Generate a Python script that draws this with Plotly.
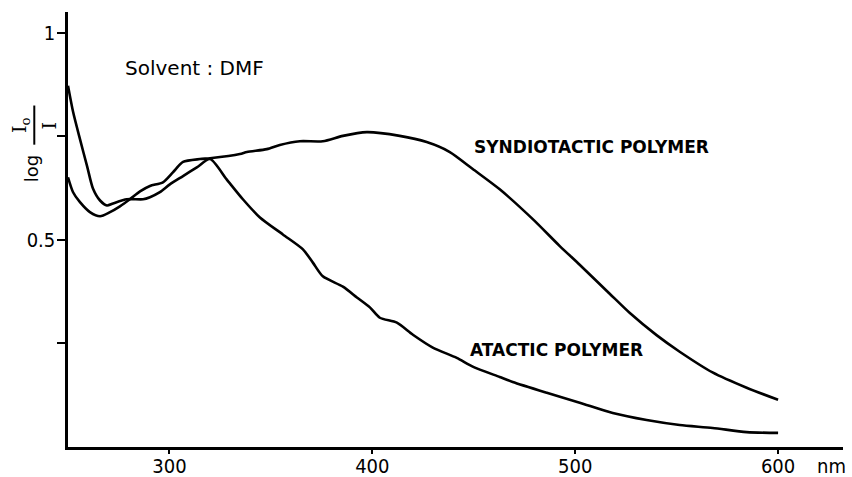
import plotly.graph_objects as go

# Wavelength (nm) and absorbance (log Io/I)
atactic_nm = [250, 252.5, 255.9, 259.4, 262.3, 265.8, 269.2, 272.2, 279, 287, 290.4, 295.3,
              300.2, 306.7, 313.5, 320, 328.2, 336.2, 344.6, 355.9, 365.8, 370.7, 375.6,
              385.5, 392.4, 398.8, 403.7, 412.1, 420, 429.8, 441.6, 449.5, 462.8, 469.2,
              486, 502.2, 518.5, 535.2, 551.5, 567.7, 584.5, 600]
atactic_abs = [0.872, 0.809, 0.743, 0.678, 0.624, 0.595, 0.583, 0.588, 0.598, 0.598, 0.603,
               0.615, 0.634, 0.654, 0.675, 0.695, 0.646, 0.598, 0.554, 0.513, 0.477, 0.445,
               0.412, 0.387, 0.361, 0.337, 0.312, 0.300, 0.271, 0.240, 0.215, 0.194, 0.169,
               0.157, 0.131, 0.107, 0.082, 0.065, 0.053, 0.046, 0.036, 0.034]

syndio_nm = [250, 252.5, 255.9, 260.8, 265.8, 270.7, 275.6, 280.5, 285.5, 290.4, 296.8,
             301.7, 306.7, 315, 320, 334.7, 338.2, 348, 354.4, 364.3, 375.6, 385.5, 397.3,
             413.5, 426.8, 438.2, 449.5, 462.8, 479.1, 492.4, 502.2, 517, 526.8, 540.1,
             551.5, 567.7, 584.5, 600]
syndio_abs = [0.651, 0.615, 0.591, 0.567, 0.557, 0.567, 0.581, 0.598, 0.617, 0.630, 0.639,
              0.663, 0.688, 0.695, 0.697, 0.707, 0.712, 0.719, 0.729, 0.738, 0.738, 0.751,
              0.760, 0.751, 0.736, 0.712, 0.671, 0.622, 0.550, 0.485, 0.440, 0.370, 0.324,
              0.270, 0.230, 0.180, 0.143, 0.114]

x_ticks = [300, 400, 500, 600]
x_ticktext = ["300", "400", "500", "600"]
y_ticks = [0.5, 1.0]
y_ticktext = ["0.5", "1"]
y_minor_ticks = [0.25, 0.75]

TICKFONT = dict(family="DejaVu Sans Condensed, DejaVu Sans, sans-serif", size=20, color="black")
LABELFONT = dict(family="DejaVu Sans, sans-serif", size=17, color="black")

fig = go.Figure()
for xs, ys, name in [(atactic_nm, atactic_abs, "ATACTIC POLYMER"),
                     (syndio_nm, syndio_abs, "SYNDIOTACTIC POLYMER")]:
    fig.add_trace(go.Scatter(x=xs, y=ys, mode="lines", name=name,
                             line=dict(color="black", width=2.6, shape="spline", smoothing=0.7),
                             hoverinfo="x+y+name"))

fig.update_layout(
    width=852, height=477,
    margin=dict(l=68, r=9, t=12, b=30),
    paper_bgcolor="white", plot_bgcolor="white",
    showlegend=False,
    xaxis=dict(range=[250, 632], tickvals=x_ticks, ticktext=x_ticktext, automargin=False,
               showgrid=False, zeroline=False, showline=True, linecolor="black", linewidth=2.5,
               ticks="outside", ticklen=4, tickwidth=2, tickcolor="black",
               ticklabelstandoff=-5, tickfont=TICKFONT),
    yaxis=dict(range=[0, 1.05], tickvals=y_ticks, ticktext=y_ticktext, automargin=False,
               showgrid=False, zeroline=False, showline=True, linecolor="black", linewidth=2.5,
               ticks="outside", ticklen=8, tickwidth=2, tickcolor="black",
               minor=dict(tickmode="array", tickvals=y_minor_ticks, ticks="outside",
                          ticklen=8, tickwidth=2, tickcolor="black", showgrid=False),
               ticklabelstandoff=-2, tickfont=TICKFONT),
)

ann = [
    dict(x=449.1, y=0.724, text="<b>SYNDIOTACTIC POLYMER</b>", xanchor="left", yanchor="middle",
         font=LABELFONT),
    dict(x=447.1, y=0.235, text="<b>ATACTIC POLYMER</b>", xanchor="left", yanchor="middle",
         font=LABELFONT),
    dict(x=277.1, y=0.915, text="Solvent : DMF", xanchor="left", yanchor="middle",
         font=dict(family="DejaVu Sans, sans-serif", size=20, color="black")),
    dict(x=626.5, xref="x", y=-0.044, yref="paper", text="nm", xanchor="center", yanchor="middle",
         font=TICKFONT),
    # y-axis title: log (Io / I), rotated
    dict(x=-0.047, xref="paper", y=0.64, yref="paper", text="log", textangle=-90,
         xanchor="center", yanchor="middle", font=dict(family="DejaVu Sans, sans-serif", size=18, color="black")),
    dict(x=-0.062, xref="paper", y=0.74, yref="paper", text="I<sub>o</sub>", textangle=-90,
         xanchor="center", yanchor="middle", font=dict(family="DejaVu Serif, serif", size=19, color="black")),
    dict(x=-0.024, xref="paper", y=0.74, yref="paper", text="I", textangle=-90,
         xanchor="center", yanchor="middle", font=dict(family="DejaVu Serif, serif", size=19, color="black")),
]
for a in ann:
    a.setdefault("showarrow", False)
    fig.add_annotation(**a)

# fraction bar of the axis title
fig.add_shape(type="line", xref="paper", yref="paper", x0=-0.0435, x1=-0.0435, y0=0.695, y1=0.785,
              line=dict(color="black", width=2))

fig.write_html("out.html", config={"displayModeBar": False},
               post_script="document.body.style.margin='0px';document.body.style.overflow='hidden';")
